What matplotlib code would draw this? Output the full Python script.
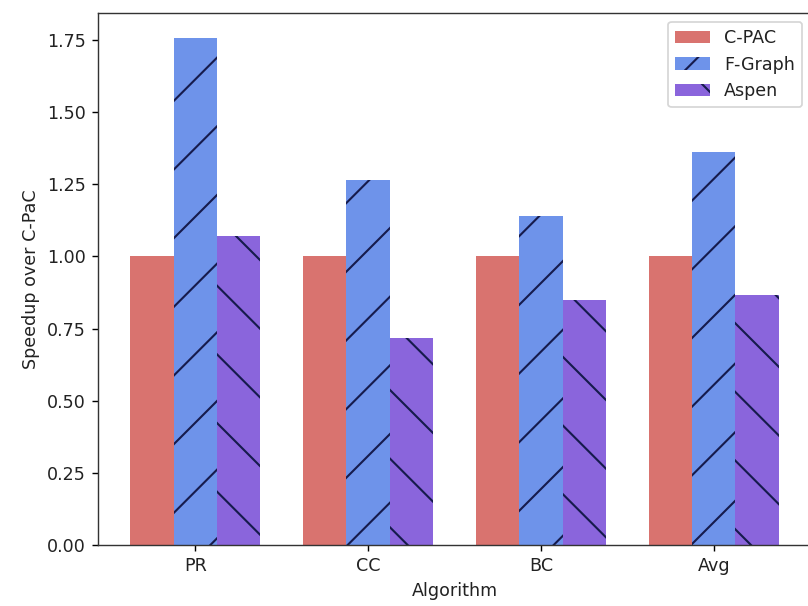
import matplotlib
matplotlib.use('Agg')
import matplotlib.pyplot as plt
import numpy as np

# values
algorithms = ['PR', 'CC', 'BC', 'Avg']
cpac = [1.0, 1.0, 1.0, 1.0]
fgraph = [1.756, 1.265, 1.14, 1.363]
aspen = [1.071, 0.716, 0.849, 0.866]

# hatch spacing is tied to dpi, so pick the dpi that matches it and scale point sizes
DPI = 206
s = 126.25 / DPI
plt.rcParams.update({
    'font.size': 10 * s,
    'axes.linewidth': 0.8 * s,
    'patch.linewidth': 1.0 * s,
    'hatch.linewidth': 1.2 * s,
    'xtick.major.size': 3.5 * s,
    'ytick.major.size': 3.5 * s,
    'xtick.major.width': 0.8 * s,
    'ytick.major.width': 0.8 * s,
    'xtick.major.pad': 3.5 * s,
    'ytick.major.pad': 3.5 * s,
    'axes.labelpad': 4.0 * s,
    'text.color': '#222222',
    'axes.labelcolor': '#222222',
    'xtick.labelcolor': '#222222',
    'ytick.labelcolor': '#222222',
    'axes.edgecolor': '#333333',
})

fig = plt.figure(figsize=(808 / DPI, 606 / DPI), dpi=DPI)
ax = fig.add_axes([0.1213, 0.1007, 0.8824, 0.8778])

x = np.arange(len(algorithms))
w = 0.25
hc = '#161b4d'
ax.bar(x - w, cpac, w, color='#d9736f', edgecolor=hc, linewidth=0, label='C-PAC')
ax.bar(x, fgraph, w, color='#6e93ea', edgecolor=hc, linewidth=0, hatch='/', label='F-Graph')
ax.bar(x + w, aspen, w, color='#8a65dc', edgecolor=hc, linewidth=0, hatch='\\', label='Aspen')

ax.set_xticks(x)
ax.set_xticklabels(algorithms)
ax.set_xlabel('Algorithm')
ax.set_ylabel('Speedup over C-PaC')
ax.legend(loc='upper right')

fig.savefig('out.png', dpi=DPI)
